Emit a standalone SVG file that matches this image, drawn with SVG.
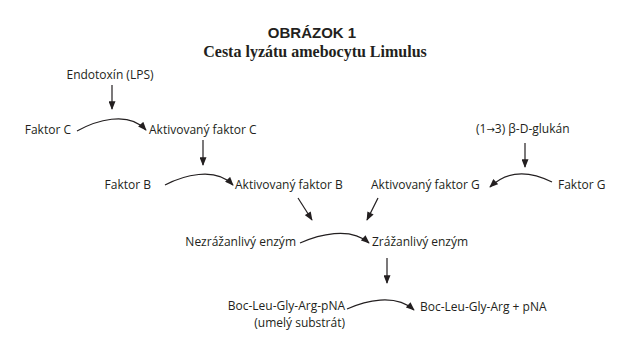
<svg xmlns="http://www.w3.org/2000/svg" width="626" height="341" viewBox="0 0 626 341">
<style>
.t{font-family:"Open Sans","Liberation Sans",Arial,sans-serif;font-size:12px;fill:#231f20}
.e{text-anchor:end}
.c{fill:none;stroke:#231f20;stroke-width:1.2}
</style>
<defs>
<marker id="ah" viewBox="0 0 10 8" refX="9" refY="4" markerWidth="10" markerHeight="7" markerUnits="userSpaceOnUse" orient="auto">
<path d="M0,0 L10,4 L0,8 Z" fill="#231f20"/>
</marker>
</defs>
<rect width="626" height="341" fill="#fff"/>
<g id="title">
<text x="312" y="38" text-anchor="middle" style="font-family:'Liberation Sans',Arial,sans-serif;font-weight:bold;font-size:15px;fill:#231f20">OBRÁZOK 1</text>
<text x="315" y="57" text-anchor="middle" style="font-family:'Liberation Serif','Times New Roman',serif;font-weight:bold;font-size:16px;fill:#231f20">Cesta lyzátu amebocytu Limulus</text>
</g>
<g id="endotoxin"><text class="t" x="110" y="79" text-anchor="middle">Endotoxín (LPS)</text></g>
<g id="faktorC"><text class="t e" x="71" y="134">Faktor C</text></g>
<g id="aktC"><text class="t" x="149" y="134">Aktivovaný faktor C</text></g>
<g id="faktorB"><text class="t e" x="151" y="189">Faktor B</text></g>
<g id="aktB"><text class="t" x="235" y="189">Aktivovaný faktor B</text></g>
<g id="glukan"><text class="t" x="476" y="133">(1<tspan style="font-family:'DejaVu Sans',sans-serif;font-size:10px">→</tspan>3) β-D-glukán</text></g>
<g id="aktG"><text class="t" x="371" y="189">Aktivovaný faktor G</text></g>
<g id="faktorG"><text class="t" x="558" y="189">Faktor G</text></g>
<g id="nezraz"><text class="t e" x="296" y="246">Nezrážanlivý enzým</text></g>
<g id="zraz"><text class="t" x="372" y="246">Zrážanlivý enzým</text></g>
<g id="substrat"><text class="t e" x="345" y="310">Boc-Leu-Gly-Arg-pNA</text><text class="t e" x="345" y="327">(umelý substrát)</text></g>
<g id="produkt"><text class="t" x="420" y="311">Boc-Leu-Gly-Arg + pNA</text></g>
<g id="connectors">
<line class="c" x1="112" y1="85" x2="112" y2="109" marker-end="url(#ah)"/>
<path class="c" d="M77,131 C95,121 128,110 146,130" marker-end="url(#ah)"/>
<line class="c" x1="203" y1="140" x2="203" y2="165" marker-end="url(#ah)"/>
<path class="c" d="M165,185 C182,176 215,166 233,185" marker-end="url(#ah)"/>
<line class="c" x1="525" y1="143" x2="525" y2="167" marker-end="url(#ah)"/>
<path class="c" d="M552,182 C532,172 510,168 490,187" marker-end="url(#ah)"/>
<line class="c" x1="298" y1="198" x2="312" y2="220" marker-end="url(#ah)"/>
<line class="c" x1="378" y1="198" x2="367" y2="220" marker-end="url(#ah)"/>
<path class="c" d="M300,243 C318,235 350,226 369,243" marker-end="url(#ah)"/>
<line class="c" x1="387" y1="258" x2="387" y2="283" marker-end="url(#ah)"/>
<path class="c" d="M347,309 C365,301 395,293 414,310" marker-end="url(#ah)"/>
</g>
</svg>
